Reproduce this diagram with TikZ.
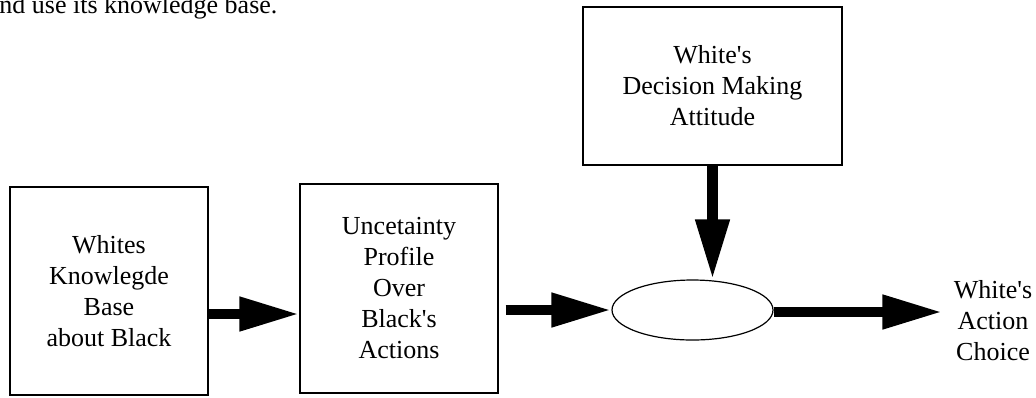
\documentclass[tikz,border=0pt]{standalone}
\usepackage{fontspec}
\setmainfont{Liberation Serif}[Ligatures=TeXOff]
\usetikzlibrary{arrows.meta,shapes.geometric}
\begin{document}
\begin{tikzpicture}[x=0.5pt,y=-0.5pt,
		every node/.style={font=\fontsize{13}{15.5}\selectfont,align=center},
		box/.style={draw,line width=0.6pt,inner sep=0pt},
		fatarrow/.style={line width=5.3pt,-{Triangle[length=30pt,width=16pt]}}]
		\useasboundingbox (0,0) rectangle (1036,397);
		
		\node[anchor=base west,inner sep=0pt] (caption) at (-1,13) {nd use its knowledge base.};
		
		\node[box,minimum width=99pt,minimum height=104pt] (kb) at (109,291) {Whites\\Knowlegde\\Base\\about Black};
		\node[box,minimum width=99pt,minimum height=104.5pt] (profile) at (399,288.5) {Uncetainty\\Profile\\Over\\Black's\\Actions};
		\node[box,minimum width=129.5pt,minimum height=79pt] (attitude) at (712.5,86) {White's\\Decision Making\\Attitude};
		\node[draw,ellipse,line width=0.6pt,minimum width=80.5pt,minimum height=30pt,inner sep=0pt] (ell) at (692.5,310) {};
		\node[inner sep=0pt] (choice) at (993,321) {White's\\Action\\Choice};
		
		\draw[fatarrow] ([yshift=-2pt]kb.east |- ell.west) -- ([yshift=-2pt]profile.west |- ell.west);
		\draw[fatarrow] ([xshift=3.5pt]profile.east |- ell.west) -- (ell.west);
		\draw[fatarrow,shorten >=5.5pt] ([yshift=-1pt]ell.east) -- ([yshift=-1pt]ell.east -| choice.west);
		\draw[fatarrow] (attitude.south) -- (attitude.south |- ell.north);
	\end{tikzpicture}
\end{document}
